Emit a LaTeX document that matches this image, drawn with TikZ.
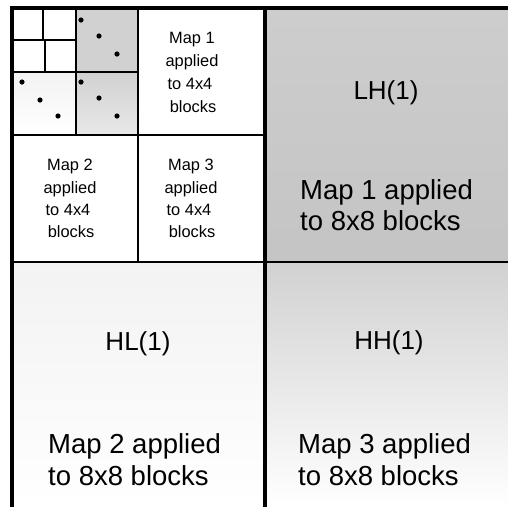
\documentclass[tikz,border=0pt]{standalone}
\usepackage{fontspec}
\setmainfont{Liberation Sans}
\begin{document}
\begin{tikzpicture}[x=1pt,y=-1pt,
  bigtxt/.style={anchor=base west,inner sep=0pt,font=\fontsize{27.5}{31}\selectfont},
  bandtxt/.style={anchor=base,inner sep=0pt,font=\fontsize{26}{30}\selectfont},
  smalltxt/.style={anchor=base,inner sep=0pt,font=\fontsize{16.4}{22}\selectfont},
  heavy/.style={line width=3.4pt},
  medium/.style={line width=2.6pt},
  fine/.style={line width=2pt},
  dot/.style={fill=black}]
\definecolor{stipdark}{gray}{0.77}
\definecolor{stipmid}{gray}{0.82}
\definecolor{stiplight}{gray}{0.95}
\useasboundingbox (0,0) rectangle (508,507);
\fill[white] (0,0) rectangle (508,507);

% subband shading
\shade[top color=stipdark!85!white, bottom color=stipdark] (265,8) rectangle (508,262);
\shade[top color=stipmid, bottom color=white] (265,262) rectangle (508,507);
\shade[top color=stiplight, bottom color=white] (12,262) rectangle (265,507);
% second level, upper-left quadrant
\fill[stipmid] (76,8) rectangle (138,72);
\shade[top color=stipmid, bottom color=stipmid!50!white] (76,72) rectangle (138,135);
\shade[top color=stiplight, bottom color=white] (12,72) rectangle (76,135);

% partition lines
\draw[heavy] (12,8) -- (508,8);
\draw[heavy] (12,6.3) -- (12,507);
\draw[heavy] (265,8) -- (265,507);
\draw[medium] (12,262) -- (508,262);
\draw[fine] (138,8) -- (138,262);
\draw[medium] (12,135) -- (265,135);
\draw[medium] (76,8) -- (76,135);
\draw[medium] (12,72) -- (138,72);
\draw[fine] (43,8) -- (43,40);
\draw[fine] (45,40) -- (45,72);
\draw[fine] (12,40) -- (76,40);

% sample points
\foreach \px/\py [count=\i] in {81/20,99/36,117/54,22/82,40/100,58/116,81/82,99/98,117/116}
  \fill[dot] (\px,\py) circle (2.6pt) coordinate (p\i);

% small block labels
\node[smalltxt] (m1a) at (192,43)  {Map 1};
\node[smalltxt] (m1b) at (192,66)  {applied};
\node[smalltxt] (m1c) at (190,89)  {to 4x4};
\node[smalltxt] (m1d) at (193,112) {blocks};

\node[smalltxt] (m2a) at (70,170) {Map 2};
\node[smalltxt] (m2b) at (70,193) {applied};
\node[smalltxt] (m2c) at (68,215) {to 4x4};
\node[smalltxt] (m2d) at (71,237) {blocks};

\node[smalltxt] (m3a) at (191,170) {Map 3};
\node[smalltxt] (m3b) at (191,193) {applied};
\node[smalltxt] (m3c) at (189,215) {to 4x4};
\node[smalltxt] (m3d) at (192,237) {blocks};

% first-level subband labels
\node[bandtxt] (lh) at (386,99)  {LH(1)};
\node[bandtxt] (hl) at (138,350) {HL(1)};
\node[bandtxt] (hh) at (389,349) {HH(1)};

\node[bigtxt] (lha) at (300,199) {Map 1 applied};
\node[bigtxt] (lhb) at (300,230) {to 8x8 blocks};
\node[bigtxt] (hla) at (48,453)  {Map 2 applied};
\node[bigtxt] (hlb) at (48,485)  {to 8x8 blocks};
\node[bigtxt] (hha) at (298,453) {Map 3 applied};
\node[bigtxt] (hhb) at (298,485) {to 8x8 blocks};
\end{tikzpicture}
\end{document}
